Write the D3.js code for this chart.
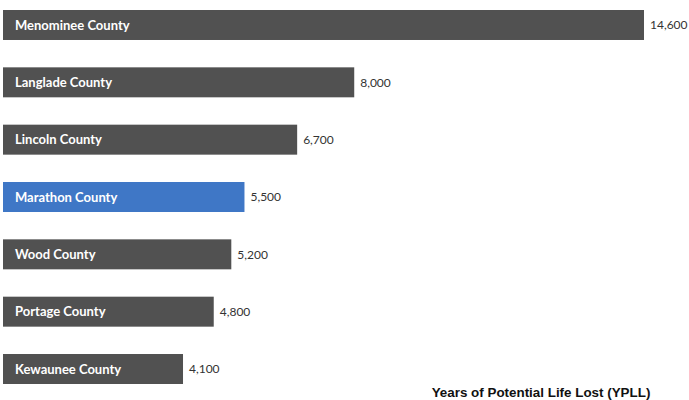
<!DOCTYPE html>
<html>
<head>
<meta charset="utf-8">
<script src="https://cdn.jsdelivr.net/npm/d3@7"></script>
<style>
  html, body { margin: 0; padding: 0; background: #ffffff; }
  svg { display: block; }
</style>
</head>
<body>
<svg id="chart" width="689" height="400"></svg>
<script>
const categories = ["Menominee County", "Langlade County", "Lincoln County", "Marathon County", "Wood County", "Portage County", "Kewaunee County"];
const values = [14600, 8000, 6700, 5500, 5200, 4800, 4100];
const valueLabels = ["14,600", "8,000", "6,700", "5,500", "5,200", "4,800", "4,100"];
const highlight = "Marathon County";
const axisTitle = "Years of Potential Life Lost (YPLL)";

const svg = d3.select("#chart");
const x = d3.scaleLinear().domain([0, 14600]).range([3, 644]);
const y = d3.scaleBand().domain(categories).range([10, 384]).paddingInner(0.477).paddingOuter(0).align(0);

const data = categories.map((c, i) => ({ c, v: values[i], lab: valueLabels[i] }));

svg.selectAll("rect.bar").data(data).enter().append("rect")
  .attr("class", "bar")
  .attr("x", x(0))
  .attr("y", d => y(d.c))
  .attr("width", d => x(d.v) - x(0))
  .attr("height", y.bandwidth())
  .attr("fill", d => d.c === highlight ? "#3f77c6" : "#515151");

svg.selectAll("text.cat").data(data).enter().append("text")
  .attr("class", "cat")
  .attr("x", 15)
  .attr("y", d => y(d.c) + y.bandwidth() / 2)
  .attr("dy", "0.36em")
  .attr("fill", "#ffffff")
  .attr("font-family", "Lato, 'Open Sans', sans-serif")
  .attr("font-weight", "bold")
  .attr("font-size", 13)
  .text(d => d.c);

svg.selectAll("text.val").data(data).enter().append("text")
  .attr("class", "val")
  .attr("x", d => x(d.v) + 6)
  .attr("y", d => y(d.c) + y.bandwidth() / 2)
  .attr("dy", "0.36em")
  .attr("fill", "#333333")
  .attr("font-family", "Lato, 'Open Sans', sans-serif")
  .attr("font-size", 12)
  .text(d => d.lab);

svg.append("text")
  .attr("x", 541)
  .attr("y", 397)
  .attr("text-anchor", "middle")
  .attr("fill", "#111111")
  .attr("font-family", "'Liberation Sans', Arial, sans-serif")
  .attr("font-weight", "bold")
  .attr("font-size", 13.4)
  .text(axisTitle);
</script>
</body>
</html>
